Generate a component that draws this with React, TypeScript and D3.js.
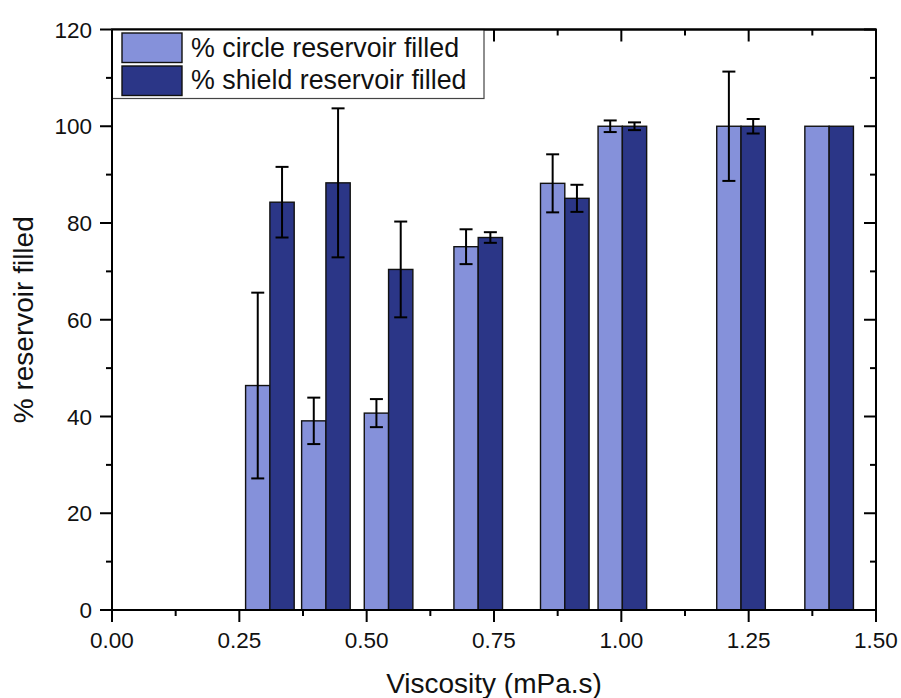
import React from "react";
import * as d3 from "d3";

const viscosity = [0.31, 0.42, 0.543, 0.719, 0.889, 1.002, 1.235, 1.408];
const circleFilled = [46.4, 39.1, 40.7, 75.1, 88.2, 100, 100, 100];
const circleErr = [19.2, 4.8, 2.9, 3.6, 6.0, 1.2, 11.3, 0];
const shieldFilled = [84.3, 88.3, 70.4, 77.0, 85.1, 100, 100, 100];
const shieldErr = [7.3, 15.4, 9.9, 1.1, 2.8, 0.8, 1.5, 0];
const xTicks = [0, 0.25, 0.5, 0.75, 1.0, 1.25, 1.5];
const xMinor = [0.125, 0.375, 0.625, 0.875, 1.125, 1.375];
const yTicks = [0, 20, 40, 60, 80, 100, 120];
const yMinor = [10, 30, 50, 70, 90, 110];
const legendLabels = ["% circle reservoir filled", "% shield reservoir filled"];
const colors = ["#8591da", "#2b3687"];

const W = 901, H = 698;
const L = 112, R = 876, T = 29.5, B = 610;
const barW = 0.0477;
const font = "'Liberation Sans', Arial, sans-serif";

export default function App() {
  const x = d3.scaleLinear().domain([0, 1.5]).range([L, R]);
  const y = d3.scaleLinear().domain([0, 120]).range([B, T]);
  const bw = x(barW) - x(0);
  const series = [
    { vals: circleFilled, errs: circleErr, off: -1 },
    { vals: shieldFilled, errs: shieldErr, off: 0 },
  ];
  const cap = 6.5;
  return (
    <svg width={W} height={H} style={{ position: "absolute", left: 0, top: 0, background: "#fff" }} fontFamily={font}>
      <rect x={0} y={0} width={W} height={H} fill="#fff" />
      {series.map((s, si) =>
        viscosity.map((v, i) => {
          const x0 = x(v) + s.off * bw;
          return (
            <rect key={`b${si}-${i}`} x={x0} y={y(s.vals[i])} width={bw} height={y(0) - y(s.vals[i])}
              fill={colors[si]} stroke="#111" strokeWidth={1.4} />
          );
        })
      )}
      {series.map((s, si) =>
        viscosity.map((v, i) => {
          if (!s.errs[i]) return null;
          const cx = x(v) + s.off * bw + bw / 2;
          const y1 = y(s.vals[i] + s.errs[i]);
          const y2 = y(s.vals[i] - s.errs[i]);
          return (
            <g key={`e${si}-${i}`} stroke="#000" strokeWidth={2}>
              <line x1={cx} x2={cx} y1={y1} y2={y2} />
              <line x1={cx - cap} x2={cx + cap} y1={y1} y2={y1} />
              <line x1={cx - cap} x2={cx + cap} y1={y2} y2={y2} />
            </g>
          );
        })
      )}
      <rect x={L} y={T} width={R - L} height={B - T} fill="none" stroke="#000" strokeWidth={2} />
      {xTicks.map((t) => (
        <g key={`xt${t}`} stroke="#000" strokeWidth={2}>
          <line x1={x(t)} x2={x(t)} y1={B} y2={B + 12} />
          <line x1={x(t)} x2={x(t)} y1={T} y2={T + 12} />
        </g>
      ))}
      {xMinor.map((t) => (
        <g key={`xm${t}`} stroke="#000" strokeWidth={2}>
          <line x1={x(t)} x2={x(t)} y1={B} y2={B + 6} />
          <line x1={x(t)} x2={x(t)} y1={T} y2={T + 6} />
        </g>
      ))}
      {yTicks.map((t) => (
        <g key={`yt${t}`} stroke="#000" strokeWidth={2}>
          <line x1={L - 12} x2={L} y1={y(t)} y2={y(t)} />
          <line x1={R - 12} x2={R} y1={y(t)} y2={y(t)} />
        </g>
      ))}
      {yMinor.map((t) => (
        <g key={`ym${t}`} stroke="#000" strokeWidth={2}>
          <line x1={L - 6} x2={L} y1={y(t)} y2={y(t)} />
          <line x1={R - 6} x2={R} y1={y(t)} y2={y(t)} />
        </g>
      ))}
      {xTicks.map((t) => (
        <text key={`xl${t}`} x={x(t)} y={648} textAnchor="middle" fontSize={22.5} fill="#111">
          {d3.format(".2f")(t)}
        </text>
      ))}
      {yTicks.map((t) => (
        <text key={`yl${t}`} x={92} y={y(t)} dy="0.36em" textAnchor="end" fontSize={22.5} fill="#111">
          {t}
        </text>
      ))}
      <text x={(L + R) / 2} y={693} textAnchor="middle" fontSize={28} fill="#111">Viscosity (mPa.s)</text>
      <text transform={`translate(33,${(T + B) / 2}) rotate(-90)`} textAnchor="middle" fontSize={28} fill="#111">% reservoir filled</text>
      <rect x={L} y={T} width={484 - L} height={98.5 - T} fill="#fff" stroke="#444" strokeWidth={1.2} />
      {legendLabels.map((lab, i) => (
        <g key={lab}>
          <rect x={122} y={33 + i * 33} width={60} height={29.5} fill={colors[i]} stroke="#111" strokeWidth={1.4} />
          <text x={191} y={57 + i * 32} fontSize={26.8} fill="#111">{lab}</text>
        </g>
      ))}
      <line x1={L} x2={R} y1={T} y2={T} stroke="#000" strokeWidth={2} />
      <line x1={L} x2={L} y1={T} y2={B} stroke="#000" strokeWidth={2} />
    </svg>
  );
}
